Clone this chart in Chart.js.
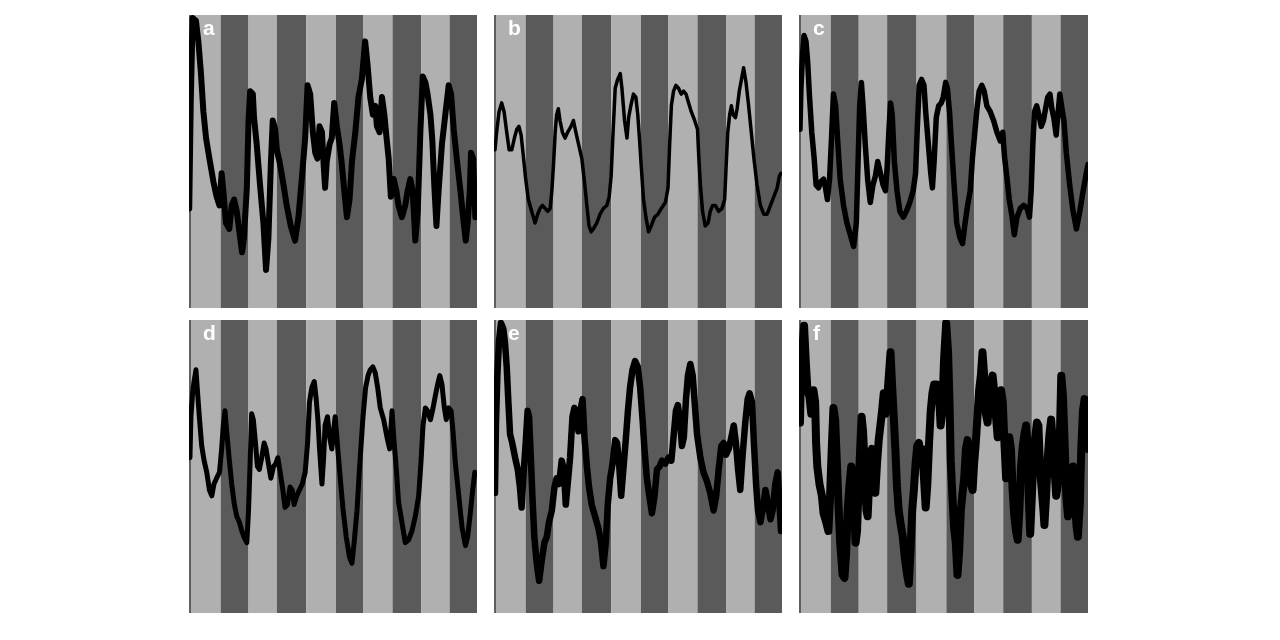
<!DOCTYPE html>
<html>
<head>
<meta charset="utf-8">
<script src="https://cdn.jsdelivr.net/npm/chart.js@4/dist/chart.umd.min.js"></script>
<style>
  html, body { margin: 0; padding: 0; background: #ffffff; }
  body { width: 1280px; height: 640px; position: relative; overflow: hidden; }
  .panel { position: absolute; }
  .panel canvas { position: absolute; left: 0; top: 0; }
  .lbl { position: absolute; left: 14px; top: 1px; color: #ffffff; font: bold 21px "Liberation Sans", Arial, sans-serif; }
</style>
</head>
<body>
<script>
// Light/dark phase boundaries (hours); phases alternate, starting with light
const phaseEdges = [0, 13.2, 24.8, 36.6, 48.8, 61.2, 72.7, 84.8, 96.7, 108.6, 120];
const panelLabels = ['a', 'b', 'c', 'd', 'e', 'f'];

// [hour, activity %]
const seriesA = [[0.1,34],[0.7,69],[1.5,99],[2.9,98],[3.9,91],[4.9,81],[6.0,67],[7.1,58],[8.5,51],[10.2,43],[11.5,38],[12.7,35],[13.6,46],[14.3,40],[15.4,29],[16.8,27],[17.8,35],[18.8,37],[19.9,33],[21.0,26],[22.1,19],[22.9,24],[24.1,41],[24.8,64],[25.5,74],[26.6,73],[27.1,65],[28.2,56],[29.6,42],[31.0,29],[32.1,13],[33.1,24],[34.1,49],[34.9,64],[35.9,61],[36.6,54],[37.7,50],[39.4,42],[40.7,35],[42.4,28],[44.2,23],[45.6,31],[47.0,44],[48.4,58],[49.4,76],[50.5,73],[51.6,60],[52.6,53],[53.5,51],[54.4,62],[55.4,60],[56.1,49],[56.7,41],[57.4,50],[58.6,56],[59.5,58],[60.5,70],[61.6,62],[62.7,56],[63.7,49],[64.7,40],[65.8,31],[66.9,37],[67.9,50],[69.3,60],[70.6,72],[72.0,78],[73.4,91],[74.4,83],[75.5,72],[76.6,66],[77.6,69],[78.3,62],[79.4,60],[80.4,72],[81.4,66],[82.2,59],[83.2,51],[84.1,38],[85.3,44],[86.4,40],[87.3,35],[88.7,31],[90.1,35],[91.1,40],[92.2,44],[93.2,40],[94.3,23],[95.3,33],[96.4,60],[97.4,79],[98.5,77],[99.4,73],[100.6,66],[101.4,57],[102.2,42],[103.1,28],[104.0,40],[105.4,56],[106.8,66],[108.2,76],[109.2,73],[110.3,61],[111.7,50],[113.1,40],[114.2,31],[115.3,23],[116.1,29],[117.0,40],[117.5,53],[118.4,51],[119.3,31]];

const seriesB = [[0.4,54],[1.1,60],[2.1,67],[3.2,70],[4.2,67],[5.3,60],[6.3,54],[7.4,54],[8.5,58],[9.5,61],[10.4,62],[11.3,59],[12.2,52],[13.2,44],[14.3,37],[15.7,33],[17.1,29],[18.2,32],[19.2,34],[20.2,35],[21.3,34],[22.4,33],[23.4,34],[24.1,40],[24.8,49],[25.5,60],[26.1,66],[26.8,68],[27.5,64],[28.5,60],[29.6,58],[30.7,60],[32.1,62],[33.1,64],[34.1,60],[35.2,56],[36.6,51],[37.7,43],[38.7,35],[39.6,28],[40.5,26],[41.4,27],[42.8,29],[44.2,32],[45.6,34],[47.0,35],[48.0,38],[48.8,45],[49.5,58],[50.5,75],[51.5,78],[52.6,80],[53.3,75],[54.4,64],[55.4,58],[56.1,65],[57.0,69],[58.1,73],[59.1,72],[59.9,66],[60.6,58],[61.3,49],[62.3,37],[63.3,31],[64.4,26],[65.5,28],[66.9,31],[68.3,32],[69.7,34],[71.4,36],[72.5,41],[73.2,56],[73.9,69],[74.8,74],[75.8,76],[76.9,75],[78.0,73],[79.0,74],[80.0,73],[81.1,70],[82.2,67],[83.6,64],[84.8,61],[85.3,52],[86.0,42],[86.9,33],[88.0,28],[89.2,29],[90.1,33],[91.1,35],[92.2,35],[93.6,33],[95.0,34],[96.1,37],[96.7,48],[97.4,60],[98.2,66],[98.9,69],[99.6,66],[100.6,65],[101.3,68],[102.2,74],[103.1,78],[104.0,82],[105.0,77],[106.1,69],[107.2,60],[108.3,51],[109.6,42],[111.0,35],[112.4,32],[113.8,32],[115.2,35],[116.6,38],[118.0,41],[118.9,45],[119.6,46]];

const seriesC = [[0.4,61],[0.8,75],[1.5,87],[2.1,93],[2.9,91],[3.6,84],[4.3,73],[5.3,60],[6.3,51],[7.1,42],[8.1,41],[9.0,43],[10.2,44],[11.0,41],[11.8,37],[12.7,44],[13.5,58],[14.3,73],[15.2,69],[16.0,58],[17.1,44],[18.5,35],[19.9,29],[21.3,25],[22.7,21],[23.8,29],[24.5,49],[25.2,69],[25.9,77],[26.6,69],[27.5,56],[28.5,44],[29.6,36],[30.7,42],[31.7,45],[32.7,50],[33.8,46],[34.9,42],[35.9,40],[36.6,48],[37.3,60],[38.0,70],[38.7,66],[39.6,50],[40.7,40],[41.9,33],[43.3,31],[44.6,33],[46.0,36],[47.4,40],[48.4,46],[49.1,61],[49.9,76],[50.9,78],[51.9,76],[52.6,67],[53.5,58],[54.7,46],[55.4,41],[56.1,50],[57.0,65],[58.0,69],[59.1,70],[59.9,72],[60.9,77],[61.6,75],[62.5,67],[63.3,56],[64.4,42],[65.5,29],[66.8,24],[67.9,22],[68.8,28],[70.0,35],[71.1,40],[72.0,51],[73.0,60],[73.9,68],[74.8,74],[75.9,76],[76.9,74],[78.0,69],[79.4,67],[80.8,64],[82.2,60],[83.6,57],[84.6,60],[85.3,52],[86.4,44],[87.3,37],[88.5,31],[89.4,25],[90.5,31],[91.9,34],[93.3,35],[94.7,34],[95.7,31],[96.4,40],[97.1,56],[97.8,67],[98.7,69],[99.6,66],[100.6,62],[101.5,64],[102.6,69],[103.3,72],[104.2,73],[105.0,68],[105.8,65],[106.8,59],[107.5,66],[108.3,73],[109.2,68],[110.0,64],[111.0,53],[112.4,42],[113.8,33],[115.2,27],[116.6,33],[118.0,40],[119.3,46],[120.0,49]];

const seriesD = [[0.4,53],[0.8,67],[1.5,75],[2.1,79],[2.9,83],[3.5,76],[4.3,67],[5.3,57],[6.3,52],[7.4,48],[8.5,42],[9.5,40],[10.4,44],[11.5,46],[12.7,48],[13.6,56],[14.3,64],[15.0,69],[15.7,62],[16.7,53],[17.8,44],[18.9,37],[19.9,33],[21.0,31],[22.0,28],[22.9,26],[24.1,24],[24.8,35],[25.5,52],[26.1,68],[26.8,66],[27.7,58],[28.5,50],[29.3,49],[30.3,53],[31.3,58],[32.1,56],[33.1,51],[34.1,46],[35.2,50],[36.2,51],[37.0,53],[38.0,48],[39.1,42],[40.0,36],[41.0,37],[42.1,43],[43.0,42],[43.8,37],[44.9,40],[46.0,42],[47.2,44],[48.4,48],[49.4,58],[50.2,72],[51.2,77],[52.2,79],[53.0,73],[53.7,66],[54.4,56],[55.4,44],[56.1,53],[56.7,64],[57.7,67],[58.6,60],[59.5,56],[60.2,62],[60.9,67],[61.6,60],[62.7,49],[64.1,36],[65.5,26],[66.9,19],[67.9,17],[68.8,24],[70.0,35],[71.1,50],[72.5,67],[73.6,77],[74.6,81],[75.5,83],[76.6,84],[77.6,82],[78.6,77],[79.7,70],[81.1,66],[82.5,60],[83.6,56],[84.6,69],[85.3,60],[86.4,49],[87.3,38],[88.7,31],[90.1,24],[91.5,25],[92.9,28],[94.3,33],[95.7,40],[96.7,52],[97.5,64],[98.5,70],[99.4,69],[100.6,66],[101.7,70],[102.6,74],[103.6,78],[104.5,81],[105.4,78],[106.4,70],[107.2,66],[108.2,70],[109.2,69],[110.0,62],[111.0,51],[112.4,40],[113.8,29],[115.2,23],[116.1,26],[117.2,34],[118.2,42],[119.1,48]];

const seriesE = [[0.4,41],[0.8,64],[1.4,81],[2.1,93],[2.9,99],[3.9,97],[4.6,92],[5.3,84],[6.0,72],[6.7,61],[7.6,58],[8.8,53],[9.9,49],[10.8,43],[11.5,36],[12.2,46],[13.2,58],[14.0,69],[14.6,67],[15.3,54],[16.0,40],[16.8,26],[17.8,17],[18.8,11],[19.9,18],[21.0,24],[22.0,26],[22.9,31],[24.1,35],[25.2,43],[26.1,46],[27.1,44],[28.2,52],[29.1,49],[29.9,37],[30.7,44],[31.7,53],[32.7,67],[33.5,70],[34.5,66],[35.2,62],[36.2,70],[36.9,73],[37.7,60],[38.7,50],[39.6,43],[40.7,37],[42.1,33],[43.5,29],[44.6,24],[45.6,16],[46.6,24],[47.4,37],[48.4,46],[49.4,51],[50.5,59],[51.3,58],[52.2,50],[53.0,40],[54.0,50],[54.9,59],[55.8,69],[56.7,77],[57.7,83],[58.8,86],[59.9,84],[60.9,77],[61.9,66],[62.7,56],[63.7,46],[64.7,40],[65.8,34],[66.9,40],[67.9,49],[69.0,50],[70.0,52],[71.4,51],[72.7,53],[73.9,52],[74.8,60],[75.8,69],[76.6,71],[77.5,66],[78.3,57],[79.1,60],[80.0,73],[80.8,81],[81.8,85],[82.8,81],[83.6,72],[84.6,61],[86.0,53],[87.3,48],[88.7,45],[90.1,41],[91.5,35],[92.6,40],[93.6,49],[94.7,57],[95.7,58],[96.7,54],[97.8,56],[98.9,60],[99.9,64],[100.8,58],[101.7,49],[102.6,42],[103.6,54],[104.7,65],[105.7,73],[106.5,75],[107.5,72],[108.3,58],[109.2,44],[110.0,35],[111.0,31],[111.9,35],[113.1,42],[114.2,37],[115.2,32],[116.1,35],[117.2,44],[118.2,48],[119.1,35],[119.6,28]];

const seriesF = [[0.4,65],[0.8,81],[1.4,90],[2.1,98],[2.8,86],[3.5,76],[4.3,74],[5.1,68],[6.0,76],[6.7,72],[7.1,58],[7.6,50],[8.5,44],[9.5,40],[10.2,34],[11.3,31],[12.2,28],[12.9,40],[13.6,56],[14.3,70],[15.0,66],[15.7,52],[16.4,37],[17.1,24],[18.1,13],[18.9,12],[19.6,21],[20.2,35],[21.0,44],[21.7,50],[22.4,46],[22.9,35],[23.5,24],[24.1,28],[24.8,44],[25.5,58],[26.0,67],[26.6,62],[27.3,49],[28.0,35],[28.5,33],[29.1,44],[29.6,54],[30.3,56],[31.0,46],[31.7,41],[32.4,51],[33.1,59],[33.8,64],[34.5,69],[35.2,75],[35.9,68],[36.6,73],[37.3,81],[38.0,89],[38.7,77],[39.4,66],[40.0,56],[40.7,43],[41.4,35],[42.1,31],[43.1,26],[43.9,19],[44.9,13],[45.6,10],[46.3,21],[47.0,35],[47.7,42],[48.4,51],[49.1,57],[49.8,58],[50.5,51],[51.2,56],[51.9,46],[52.6,36],[53.3,44],[54.0,58],[54.7,69],[55.4,75],[56.1,78],[57.2,78],[58.1,75],[58.8,64],[59.5,69],[60.2,86],[61.1,99],[61.9,89],[62.5,72],[63.0,52],[63.7,40],[64.4,29],[65.1,24],[65.8,13],[66.5,21],[67.2,35],[67.9,41],[68.6,46],[69.3,56],[70.0,59],[70.7,54],[71.4,44],[72.1,42],[72.7,51],[73.4,58],[74.1,67],[74.8,76],[75.5,81],[76.2,89],[76.9,81],[77.6,68],[78.3,65],[79.0,73],[79.7,78],[80.4,81],[81.1,75],[81.8,67],[82.5,60],[83.2,69],[83.9,76],[84.6,72],[85.3,58],[86.0,46],[86.6,51],[87.3,60],[88.0,56],[88.7,42],[89.4,33],[90.1,28],[90.8,25],[91.5,35],[92.2,50],[92.9,57],[93.6,61],[94.3,64],[95.0,56],[95.4,40],[96.0,27],[96.7,40],[97.4,54],[98.1,60],[98.8,65],[99.4,64],[100.1,49],[100.8,42],[101.5,35],[101.9,30],[102.6,40],[103.3,53],[104.0,61],[104.7,66],[105.4,58],[106.1,49],[106.8,40],[107.5,44],[108.2,56],[108.9,81],[109.6,74],[110.3,58],[111.0,40],[111.7,33],[112.4,35],[113.1,44],[113.8,50],[114.5,40],[115.2,30],[115.8,26],[116.6,37],[117.2,56],[117.9,69],[118.6,73],[119.3,66],[120.0,56]];

const panels = [
  { label: panelLabels[0], data: seriesA, left: 189, top: 15, w: 288, h: 293, lw: 6 },
  { label: panelLabels[1], data: seriesB, left: 494, top: 15, w: 288, h: 293, lw: 3.5 },
  { label: panelLabels[2], data: seriesC, left: 799, top: 15, w: 289, h: 293, lw: 5.5 },
  { label: panelLabels[3], data: seriesD, left: 189, top: 320, w: 288, h: 293, lw: 5 },
  { label: panelLabels[4], data: seriesE, left: 494, top: 320, w: 288, h: 293, lw: 6.5 },
  { label: panelLabels[5], data: seriesF, left: 799, top: 320, w: 289, h: 293, lw: 8 }
];

const stripePlugin = {
  id: 'stripes',
  beforeDatasetsDraw(chart) {
    const { ctx, chartArea: a, scales: { x } } = chart;
    ctx.save();
    for (let i = 0; i < phaseEdges.length - 1; i++) {
      const x0 = x.getPixelForValue(phaseEdges[i]);
      const x1 = x.getPixelForValue(phaseEdges[i + 1]);
      ctx.fillStyle = (i % 2 === 0) ? '#b0b0b0' : '#5a5a5a';
      ctx.fillRect(x0, a.top, x1 - x0, a.bottom - a.top);
    }
    ctx.fillStyle = '#5e5e5e';
    ctx.fillRect(a.left, a.top, 2, a.bottom - a.top);
    ctx.restore();
  }
};

panels.forEach(p => {
  const div = document.createElement('div');
  div.className = 'panel';
  div.style.left = p.left + 'px';
  div.style.top = p.top + 'px';
  div.style.width = p.w + 'px';
  div.style.height = p.h + 'px';
  const cv = document.createElement('canvas');
  cv.width = p.w; cv.height = p.h;
  cv.style.width = p.w + 'px'; cv.style.height = p.h + 'px';
  div.appendChild(cv);
  const lbl = document.createElement('div');
  lbl.className = 'lbl';
  lbl.textContent = p.label;
  div.appendChild(lbl);
  document.body.appendChild(div);

  new Chart(cv, {
    type: 'line',
    data: {
      datasets: [{
        data: p.data.map(([t, v]) => ({ x: t, y: v })),
        borderColor: '#000000',
        borderWidth: p.lw,
        borderJoinStyle: 'round',
        borderCapStyle: 'round',
        pointRadius: 0,
        tension: 0,
        fill: false
      }]
    },
    options: {
      responsive: false,
      animation: false,
      events: [],
      layout: { padding: 0 },
      plugins: { legend: { display: false }, tooltip: { enabled: false } },
      scales: {
        x: { type: 'linear', min: 0, max: 120, display: false },
        y: { min: 0, max: 100, display: false }
      }
    },
    plugins: [stripePlugin]
  });
});
</script>
</body>
</html>
